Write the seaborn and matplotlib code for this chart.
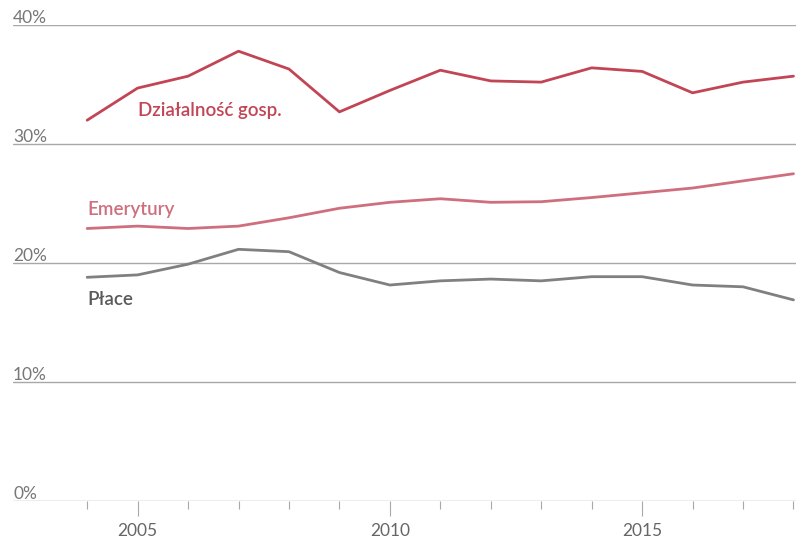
import matplotlib
matplotlib.use("Agg")
import matplotlib.pyplot as plt
import matplotlib.transforms as mtransforms
from matplotlib.ticker import FixedLocator
import seaborn as sns
import pandas as pd

years = list(range(2004, 2019))
dzialalnosc = [32.0, 34.7, 35.7, 37.8, 36.3, 32.7, 34.5, 36.2, 35.3, 35.2, 36.4, 36.1, 34.3, 35.2, 35.7]
emerytury = [22.9, 23.1, 22.9, 23.1, 23.8, 24.6, 25.1, 25.4, 25.1, 25.15, 25.5, 25.9, 26.3, 26.9, 27.5]
place = [18.8, 19.0, 19.9, 21.15, 20.95, 19.2, 18.15, 18.5, 18.65, 18.5, 18.85, 18.85, 18.15, 18.0, 16.9]
series_names = ["Działalność gosp.", "Emerytury", "Płace"]
y_ticks = [0, 10, 20, 30, 40]
x_major = [2005, 2010, 2015]

colors = {"Działalność gosp.": "#c24556", "Emerytury": "#cf6f7e", "Płace": "#808080"}
label_colors = {"Działalność gosp.": "#c24556", "Emerytury": "#cf6f7e", "Płace": "#5a5a5a"}

df = pd.DataFrame({
    "year": years * 3,
    "value": dzialalnosc + emerytury + place,
    "series": [series_names[0]] * len(years) + [series_names[1]] * len(years) + [series_names[2]] * len(years),
})

sns.set_theme(style="white")
plt.rcParams["font.family"] = ["Lato", "DejaVu Sans"]

fig = plt.figure(figsize=(8.02, 5.42), dpi=100)
ax = fig.add_axes([13 / 802, (542 - 501) / 542, (796 - 13) / 802, (501 - 25) / 542])

sns.lineplot(data=df, x="year", y="value", hue="series", palette=colors,
             linewidth=2.0, ax=ax, legend=False, zorder=3)

ax.set_xlim(2002.53, 2018.05)
ax.set_ylim(0, 40)
for s in ["top", "right", "left", "bottom"]:
    ax.spines[s].set_visible(False)

trans = mtransforms.blended_transform_factory(ax.transAxes, ax.transData)
for v in y_ticks:
    ax.axhline(v, color="#a8a8a8", linewidth=1.0, zorder=1)
    ax.text(0.0, v + 0.2, f"{v}%", transform=trans, ha="left", va="baseline",
            fontsize=12.5, color="#777777")

ax.set_yticks([])
ax.xaxis.set_major_locator(FixedLocator(x_major))
ax.xaxis.set_minor_locator(FixedLocator([y for y in years if y not in x_major]))
ax.set_xticklabels([str(y) for y in x_major])
ax.tick_params(axis="x", which="major", bottom=True, length=11, width=0.8, color="#a8a8a8",
               labelsize=12.5, labelcolor="#666666", pad=5)
ax.tick_params(axis="x", which="minor", bottom=True, length=5.5, width=0.8, color="#a8a8a8")
ax.set_xlabel("")
ax.set_ylabel("")

ax.text(2005.0, 32.8, series_names[0], color=label_colors[series_names[0]], fontsize=13.5,
        fontweight="semibold", ha="left", va="center")
ax.text(2004.0, 24.5, series_names[1], color=label_colors[series_names[1]], fontsize=13.5,
        fontweight="semibold", ha="left", va="center")
ax.text(2004.0, 16.9, series_names[2], color=label_colors[series_names[2]], fontsize=13.5,
        fontweight="semibold", ha="left", va="center")

fig.savefig("out.png", dpi=100)
